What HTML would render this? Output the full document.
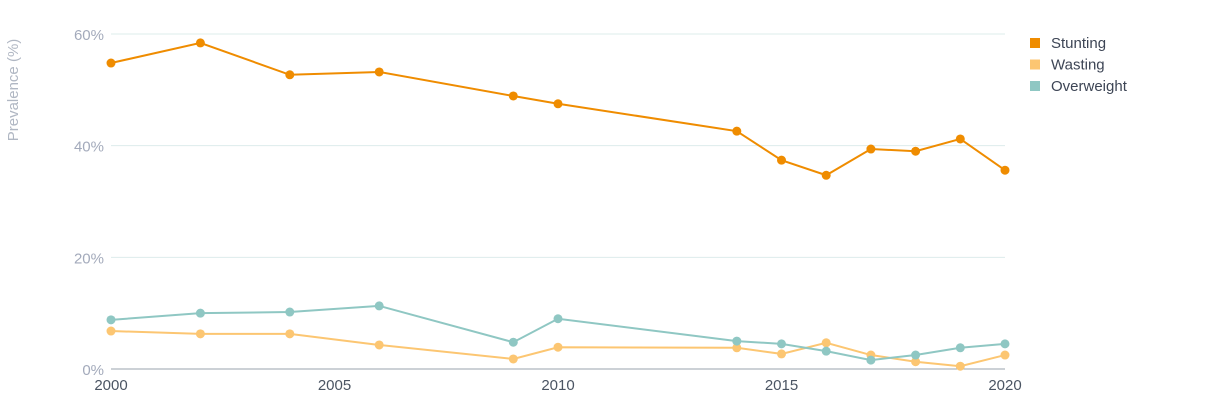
<!DOCTYPE html>
<html><head><meta charset="utf-8"><style>
body{margin:0;background:#fff;font-family:"Liberation Sans",sans-serif}
svg text{font-family:"Liberation Sans",sans-serif}
</style></head><body>
<svg id="chart" width="1230" height="403" xmlns="http://www.w3.org/2000/svg"></svg>
<script>
const years=[2000,2002,2004,2006,2009,2010,2014,2015,2016,2017,2018,2019,2020];
const stunting=[54.8,58.4,52.7,53.2,48.9,47.5,42.6,37.4,34.7,39.4,39.0,41.2,35.6];
const wasting=[6.8,6.3,6.3,4.3,1.8,3.9,3.8,2.7,4.7,2.5,1.3,0.5,2.5];
const overweight=[8.8,10.0,10.2,11.3,4.8,9.0,5.0,4.5,3.2,1.6,2.5,3.8,4.5];
const yTicks=[0,20,40,60];
const xTicks=[2000,2005,2010,2015,2020];
const seriesNames=["Stunting","Wasting","Overweight"];
const colors=["#ef8c00","#fcc672","#8fc7c3"];
const NS="http://www.w3.org/2000/svg";
const svg=document.getElementById('chart');
const x=v=>111+(v-2000)*(1005-111)/20;
const y=v=>369-v*(369-34)/60;
function el(t,a,p){const e=document.createElementNS(NS,t);for(const k in a)e.setAttribute(k,a[k]);(p||svg).appendChild(e);return e;}
yTicks.forEach(t=>{
 if(t>0){const g=el('line',{x1:111,x2:1005,y1:y(t),y2:y(t),stroke:'#ddeceb','stroke-width':1});
 
 }
 const l=el('text',{x:104,y:y(t)+6,'text-anchor':'end','font-size':15,fill:'#a3aabb'});l.textContent=t+'%';
 
 
});
const base=el('line',{x1:111,x2:1005,y1:369,y2:369,stroke:'#9aa3ad','stroke-width':1});


xTicks.forEach(t=>{
 const l=el('text',{x:x(t),y:390,'text-anchor':'middle','font-size':15,fill:'#4b5563'});l.textContent=t;
 
 
});
const yt=el('text',{x:18,y:90,'text-anchor':'middle','font-size':15,fill:'#b0b7c3',transform:'rotate(-90 18 90)'});yt.textContent='Prevalence (%)';


[stunting,wasting,overweight].forEach((s,i)=>{
 const g=el('g',{});
 
 
 el('polyline',{points:s.map((v,j)=>x(years[j])+','+y(v)).join(' '),fill:'none',stroke:colors[i],'stroke-width':2},g);
 s.forEach((v,j)=>{const c=el('circle',{cx:x(years[j]),cy:y(v),r:4.5,fill:colors[i]},g);
  
  });
 const lg=el('g',{});
 
 
 el('rect',{x:1030,y:38+i*21.5,width:10,height:10,fill:colors[i]},lg);
 const t=el('text',{x:1051,y:48+i*21.5,'font-size':15,fill:'#3d4555'},lg);t.textContent=seriesNames[i];
});
</script>
</body></html>
